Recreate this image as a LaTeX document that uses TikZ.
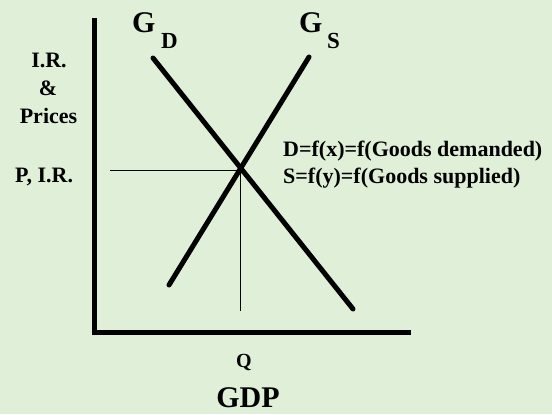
\documentclass[tikz,border=0pt]{standalone}
\usepackage{fontspec}
\setmainfont{Liberation Serif}
\definecolor{bgc}{RGB}{224,239,216}
\begin{document}
\begin{tikzpicture}[x=1bp,y=-1bp,
  lbl/.style={inner sep=0pt,font=\bfseries\fontsize{22bp}{26bp}\selectfont},
  big/.style={inner sep=0pt,font=\bfseries\fontsize{30bp}{34bp}\selectfont},
  sub/.style={inner sep=0pt,font=\bfseries\fontsize{23bp}{26bp}\selectfont},
  axis/.style={line width=5bp},
  curve/.style={line width=5bp,line cap=round},
  guide/.style={line width=1.5bp}]
\fill[bgc] (0,0) rectangle (552,414);
\useasboundingbox (0,0) rectangle (552,414);
% axes
\coordinate (ytop) at (94.5,18);
\coordinate (origin) at (94.5,332.5);
\coordinate (xend) at (411,332.5);
\draw[axis] (ytop) -- (origin) -- (xend);
% curves
\coordinate (gd1) at (153,58);
\coordinate (gd2) at (353,309);
\coordinate (gs1) at (309,57);
\coordinate (gs2) at (169,285);
\coordinate (eq) at (240.5,170.5);
\coordinate (pL) at (110,170.5);
\coordinate (qB) at (240.5,311);
\draw[guide] (pL) -- (eq) -- (qB);
\draw[curve] (gd1) -- (gd2);
\draw[curve] (gs1) -- (gs2);
\fill (eq) circle (3.2bp);
% labels
\node[big,anchor=base west] (gdG) at (132,32) {G};
\node[sub,anchor=base west] (gdD) at (161,48) {D};
\node[big,anchor=base west] (gsG) at (299,32) {G};
\node[sub,anchor=base west] (gsS) at (327,48) {S};
\node[lbl,anchor=base] (ir) at (49,67) {I.R.};
\node[lbl,anchor=base] (amp) at (48,95) {\&};
\node[lbl,anchor=base] (pr) at (48.5,123) {Prices};
\node[lbl,anchor=base west] (pir) at (15,182) {P, I.R.};
\node[lbl,anchor=base west] (dl) at (283,156) {D=f(x)=f(Goods demanded)};
\node[lbl,anchor=base west] (sl) at (283,183) {S=f(y)=f(Goods supplied)};
\node[lbl,anchor=base,font=\bfseries\fontsize{20bp}{24bp}\selectfont] (q) at (244,367) {Q};
\node[big,anchor=base] (gdp) at (248,407) {GDP};
\end{tikzpicture}
\end{document}
